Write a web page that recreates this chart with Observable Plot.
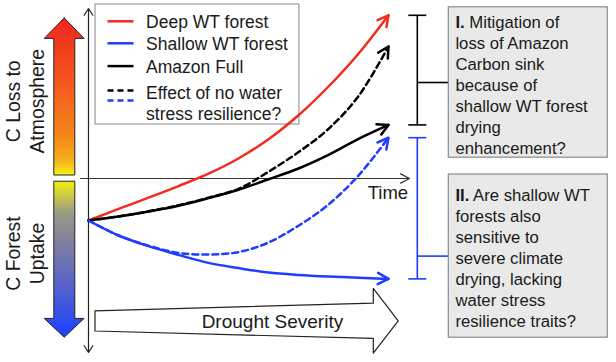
<!DOCTYPE html>
<html><head><meta charset="utf-8">
<script src="https://cdn.jsdelivr.net/npm/d3@7"></script>
<script src="https://cdn.jsdelivr.net/npm/@observablehq/plot@0.6"></script>
<style>body{margin:0;background:#fff} svg{display:block}</style>
</head><body><div id="chart"></div>
<script>
// ---------- data (conceptual carbon response vs time / drought) ----------
const seriesNames = ["Deep WT forest", "Shallow WT forest", "Amazon Full", "Effect of no water\nstress resilience?"];
const time = [0, 1, 2, 3, 4, 5, 6, 7, 8, 9, 10];
const deepWT              = [-1.05, -0.76, -0.48, -0.19, 0.12, 0.5, 0.98, 1.58, 2.3, 3.12, 4.08];
const shallowWT           = [-1.05, -1.425, -1.69, -1.91, -2.11, -2.24, -2.35, -2.41, -2.45, -2.48, -2.51];
const amazonFull          = [-1.05, -0.95, -0.825, -0.68, -0.49, -0.28, -0.02, 0.25, 0.59, 0.99, 1.34];
const amazonNoResilience  = [-1.05, -0.95, -0.82, -0.67, -0.48, -0.26, 0.17, 0.66, 1.24, 2.06, 3.3];
const shallowNoResilience = [-1.05, -1.425, -1.68, -1.86, -1.9, -1.84, -1.6, -1.18, -0.65, 0.075, 1.02];
const sideLabels = ["C Loss to\nAtmosphere", "C Forest\nUptake"];
const axisLabel = "Time";
const driverLabel = "Drought Severity";
const questionTexts = [
  "I. Mitigation of\nloss of Amazon\nCarbon sink\nbecause of\nshallow WT forest\ndrying\nenhancement?",
  "II. Are shallow WT\nforests also\nsensitive to\nsevere climate\ndrying, lacking\nwater stress\nresilience traits?"
];

// ---------- layout & style ----------
const W = 616, H = 362;
const PXT = 30, PXC = 40;          // pixels per unit of time / carbon
const OX = 88, OY = 178;           // pixel location of the origin
const RED = "#f32b1e", BLUE = "#1f3cff", BLACK = "#000", INK = "#1a1a1a";
const FONT = "Liberation Sans, Arial, Helvetica, sans-serif";

const curveDefs = [
  {values: deepWT, stroke: RED, dash: null},
  {values: shallowWT, stroke: BLUE, dash: null},
  {values: amazonFull, stroke: BLACK, dash: null},
  {values: amazonNoResilience, stroke: BLACK, dash: "6,4"},
  {values: shallowNoResilience, stroke: BLUE, dash: "6,4"}
];
const pts = (vals) => time.map((t, i) => ({t, c: vals[i]}));

function head(values, len = 12, half = 28) {
  const n = values.length - 1;
  const tx = time[n], ty = values[n];
  const vx = (time[n] - time[n - 1]) * PXT, vy = -(values[n] - values[n - 1]) * PXC;
  const m = Math.hypot(vx, vy), bx = -vx / m, by = -vy / m;
  const w = [-1, 1].map(s => {
    const a = s * half * Math.PI / 180;
    const rx = bx * Math.cos(a) - by * Math.sin(a), ry = bx * Math.sin(a) + by * Math.cos(a);
    return {t: tx + rx * len / PXT, c: ty - ry * len / PXC};
  });
  return [w[0], {t: tx, c: ty}, w[1]];
}

const upArrow = [
  {c: 4.0, a: -0.793, b: -0.793}, {c: 3.49, a: -1.46, b: -0.13},
  {c: 3.49, a: -1.14, b: -0.44}, {c: 0.075, a: -1.14, b: -0.44}
];
const downArrow = [
  {c: -0.09, a: -1.14, b: -0.44}, {c: -3.51, a: -1.14, b: -0.44},
  {c: -3.51, a: -1.46, b: -0.13}, {c: -3.98, a: -0.793, b: -0.793}
];
const droughtArrow = [
  {t: 0.233, lo: -3.825, hi: -3.32}, {t: 9.51, lo: -4.01, hi: -3.13},
  {t: 9.51, lo: -4.38, hi: -2.76}, {t: 10.34, lo: -3.57, hi: -3.57}
];

const legendBox = [{t1: 0.233, t2: 7.03, c1: 1.35, c2: 4.35}];
const legendLines = [
  {c: 3.93, stroke: RED, dash: null}, {c: 3.38, stroke: BLUE, dash: null},
  {c: 2.81, stroke: BLACK, dash: null}, {c: 2.2, stroke: BLACK, dash: "6,4"},
  {c: 1.95, stroke: BLUE, dash: "6,4"}
];
const legendText = seriesNames.map((s, i) => ({label: s, t: 1.92, c: [3.93, 3.38, 2.81, 1.9][i]}));

const boxes = [
  {t1: 12.01, t2: 17.31, c1: 0.52, c2: 4.28, mid: 2.4, textC: 2.35},
  {t1: 12.01, t2: 17.31, c1: -3.98, c2: 0.1, mid: -1.94, textC: -1.96}
];
const BX = 10.96, CAP = 0.3;
const n = time.length - 1;
const brackets = [
  {top: deepWT[n], bottom: amazonFull[n], box: boxes[0], stroke: BLACK},
  {top: shallowNoResilience[n], bottom: shallowWT[n], box: boxes[1], stroke: BLUE}
];
const bracketSegs = brackets.flatMap(b => [
  {t1: BX, c1: b.top, t2: BX, c2: b.bottom, s: b.stroke},
  {t1: BX - CAP, c1: b.top, t2: BX + CAP, c2: b.top, s: b.stroke},
  {t1: BX - CAP, c1: b.bottom, t2: BX + CAP, c2: b.bottom, s: b.stroke},
  {t1: BX, c1: b.box.mid, t2: b.box.t1, c2: b.box.mid, s: b.stroke}
]);

const marks = [
  // gradient arrows on the left
  Plot.areaX(upArrow, {y: "c", x1: "a", x2: "b", fill: "url(#gUp)", stroke: "#222", strokeWidth: 1}),
  Plot.areaX(downArrow, {y: "c", x1: "a", x2: "b", fill: "url(#gDown)", stroke: "#222", strokeWidth: 1}),
  Plot.text([{label: sideLabels[0], t: -2.13, c: 1.93}, {label: sideLabels[1], t: -2.13, c: -1.875}],
    {x: "t", y: "c", text: "label", rotate: -90, fontSize: 19.4, lineHeight: 1.19, fill: INK}),
  // axes
  Plot.arrow([{a: 0, b: 4.25}, {a: 0, b: -4.35}], {x1: 0, x2: 0, y1: "a", y2: "b", stroke: "#222", strokeWidth: 1.2, headLength: 10, headAngle: 65}),
  Plot.arrow([{a: -0.27, b: 10.7}], {x1: "a", x2: "b", y1: 0, y2: 0, stroke: "#333", strokeWidth: 1.2, headLength: 12.5, headAngle: 55}),
  Plot.text([{label: axisLabel, t: 9.98, c: -0.36}], {x: "t", y: "c", text: "label", fontSize: 18.5, fill: INK}),
  // legend
  Plot.rect(legendBox, {x1: "t1", x2: "t2", y1: "c1", y2: "c2", fill: "white", stroke: "#999", strokeWidth: 1.2}),
  ...legendLines.map(l => Plot.link([l], {x1: 0.633, x2: 1.5, y1: "c", y2: "c", stroke: l.stroke, strokeWidth: 2.5, strokeDasharray: l.dash ?? undefined})),
  Plot.text(legendText, {x: "t", y: "c", text: "label", textAnchor: "start", fontSize: 17.5, lineHeight: 1.19, fill: INK}),
  // drought severity arrow
  Plot.areaY(droughtArrow, {x: "t", y1: "lo", y2: "hi", fill: "white", stroke: "#222", strokeWidth: 1.2}),
  Plot.text([{label: driverLabel, t: 6.13, c: -3.58}], {x: "t", y: "c", text: "label", fontSize: 19, fill: INK}),
  // curves
  ...curveDefs.map(d => Plot.line(pts(d.values), {x: "t", y: "c", stroke: d.stroke, strokeWidth: 2.5, strokeDasharray: d.dash ?? undefined, curve: "catmull-rom"})),
  ...curveDefs.map(d => Plot.line(head(d.values), {x: "t", y: "c", stroke: d.stroke, strokeWidth: 2.5, strokeLinecap: "round", strokeLinejoin: "round"})),
  // brackets and question boxes
  Plot.link(bracketSegs, {x1: "t1", y1: "c1", x2: "t2", y2: "c2", stroke: "s", strokeWidth: 1.6}),
  Plot.rect(boxes, {x1: "t1", x2: "t2", y1: "c1", y2: "c2", fill: "#e9e9e9", stroke: "#8c8c8c", strokeWidth: 1.2}),
  Plot.text(boxes.map((b, i) => ({label: questionTexts[i], t: 12.23, c: b.textC})),
    {x: "t", y: "c", text: "label", textAnchor: "start", fontSize: 16.7, lineHeight: 1.26, fill: INK})
];

const svg = Plot.plot({
  width: W, height: H, margin: 0,
  x: {type: "linear", domain: [-OX / PXT, (W - OX) / PXT], axis: null},
  y: {type: "linear", domain: [-(H - OY) / PXC, OY / PXC], axis: null},
  style: {fontFamily: FONT, background: "white", overflow: "visible"},
  marks
});

// gradients for the left arrows
const defs = d3.select(svg).insert("defs", ":first-child");
const addGrad = (id, stops) => {
  const g = defs.append("linearGradient").attr("id", id).attr("x1", 0).attr("y1", 0).attr("x2", 0).attr("y2", 1);
  stops.forEach(([o, c]) => g.append("stop").attr("offset", o).attr("stop-color", c));
};
addGrad("gUp", [[0, "#f0261e"], [0.4, "#f5561e"], [0.75, "#f6861a"], [0.9, "#f6ae19"], [1, "#f5f01a"]]);
addGrad("gDown", [[0, "#f0ec10"], [0.08, "#cfcd40"], [0.2, "#9a9a88"], [0.4, "#7e7ea0"], [0.65, "#5a64c8"], [1, "#1a40ff"]]);

// bold roman numerals
d3.select(svg).selectAll("tspan").each(function () {
  const m = this.textContent.match(/^(I+\.)\s(.*)$/);
  if (m) {
    const s = d3.select(this);
    s.text(null);
    s.append("tspan").attr("font-weight", "bold").text(m[1]);
    s.append("tspan").text(" " + m[2]);
  }
});

document.getElementById("chart").appendChild(svg);
</script>
</body></html>
